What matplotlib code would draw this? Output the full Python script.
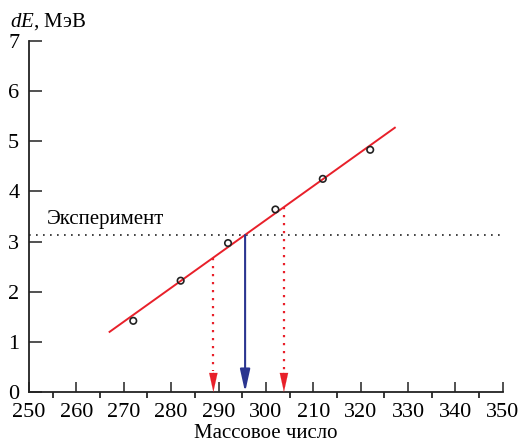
import matplotlib
matplotlib.use("Agg")
import matplotlib.pyplot as plt
import numpy as np

# Data
mass_numbers = [272, 282, 292, 302, 312, 322]
dE_values = [1.42, 2.22, 2.97, 3.64, 4.25, 4.83]
fit_x = [267, 327.2]
fit_y = [1.2, 5.27]
experiment_level = 3.13
blue_arrow_x = 295.6
red_arrow_x = [288.9, 303.8]
x_ticks = [250, 260, 270, 280, 290, 300, 310, 320, 330, 340, 350]
x_tick_labels = ["250", "260", "270", "280", "290", "300", "210", "320", "330", "340", "350"]
y_ticks = [0, 1, 2, 3, 4, 5, 6, 7]

plt.rcParams['font.family'] = 'serif'
plt.rcParams['font.serif'] = ['Liberation Serif']
plt.rcParams['mathtext.fontset'] = 'custom'
plt.rcParams['mathtext.it'] = 'Liberation Serif:italic'
plt.rcParams['mathtext.rm'] = 'Liberation Serif'

fig = plt.figure(figsize=(5.23, 4.45), dpi=100)
ax = fig.add_axes([0.0555, 0.119, 0.906, 0.789])

ax.set_xlim(250, 350)
ax.set_ylim(0, 7)

# fit line
ax.plot(fit_x, fit_y, color='#e8202a', lw=1.4, zorder=3)
slope = (fit_y[1] - fit_y[0]) / (fit_x[1] - fit_x[0])

# experiment dotted line
ax.plot([250, 350], [experiment_level]*2, color='#222222', lw=1.2,
        linestyle=(0, (1, 3.2)), zorder=2)
ax.text(253.8, experiment_level + 0.12, "Эксперимент", fontsize=15, va='bottom', ha='left')

head = '-|>,head_length=0.9,head_width=0.2'

# blue arrow
ax.annotate("", xy=(blue_arrow_x, 0), xytext=(blue_arrow_x, experiment_level),
            arrowprops=dict(arrowstyle=head, mutation_scale=15,
                            color='#2b3590', lw=1.5, shrinkA=0, shrinkB=0), zorder=4)

# red dotted arrows
for rx in red_arrow_x:
    ry = fit_y[0] + slope * (rx - fit_x[0])
    ax.plot([rx, rx], [ry, 0.42], color='#e8202a', lw=1.6,
            linestyle=(0, (1, 2.6)), zorder=3)
    ax.annotate("", xy=(rx, 0), xytext=(rx, 0.4),
                arrowprops=dict(arrowstyle=head, mutation_scale=15,
                                color='#e8202a', lw=0.1, shrinkA=0, shrinkB=0), zorder=4)

# data points
ax.scatter(mass_numbers, dE_values, s=22, facecolors='none', edgecolors='#222222',
           linewidths=1.2, zorder=5)

# axes styling
for s in ['top', 'right']:
    ax.spines[s].set_visible(False)
for s in ['left', 'bottom']:
    ax.spines[s].set_linewidth(1.3)
    ax.spines[s].set_color('#222222')

ax.set_xticks(x_ticks)
ax.set_xticklabels(x_tick_labels)
ax.set_xticks(np.arange(255, 350, 10), minor=True)
ax.set_yticks(y_ticks)
ax.tick_params(axis='both', direction='in', labelsize=16, color='#222222')
ax.tick_params(axis='x', which='major', length=7, width=1.1, pad=8)
ax.tick_params(axis='x', which='minor', length=4, width=1.1)
ax.tick_params(axis='y', which='major', length=9, width=1.1, pad=7)

ax.set_xlabel("Массовое число", fontsize=15, labelpad=1)
fig.text(10/523, (445-27)/445, r"$dE$, МэВ", fontsize=15, ha='left', va='baseline')

fig.savefig("out.png", dpi=100)
